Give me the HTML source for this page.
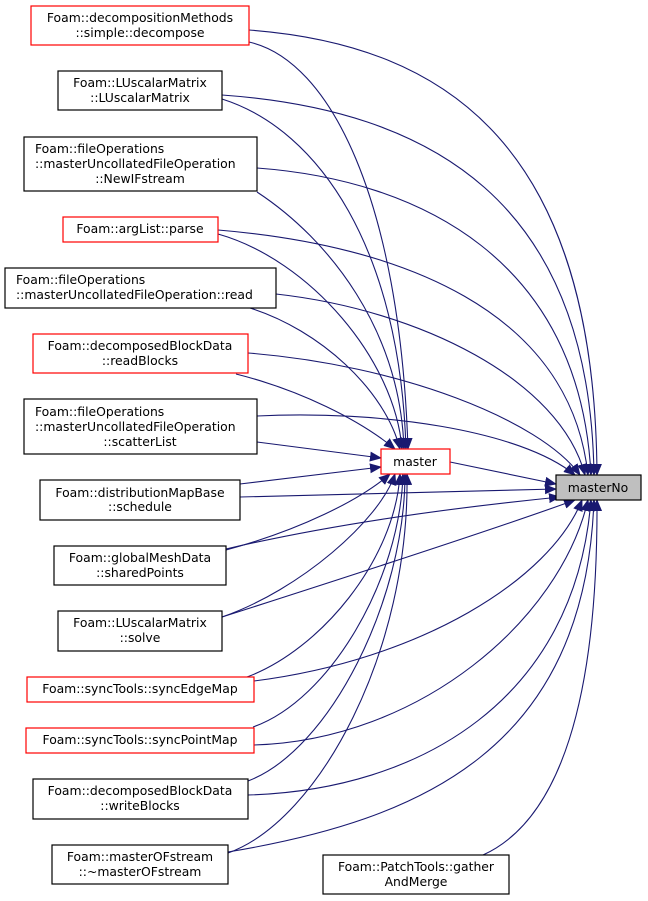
<!DOCTYPE html>
<html><head><meta charset="utf-8"><style>
html,body{margin:0;padding:0;background:#fff;}
svg{display:block;}
text{font-family:"DejaVu Sans","Liberation Sans",sans-serif;font-size:12.4px;fill:#000;}
.e{fill:none;stroke:#191970;stroke-width:1.1;}
.r{fill:#fff;stroke:#ff0000;stroke-width:1.2;}
.b{fill:#fff;stroke:#000;stroke-width:1.2;}
</style></head><body>
<svg width="648" height="901" viewBox="0 0 648 901" xmlns="http://www.w3.org/2000/svg">
<defs><marker id="a" markerWidth="12" markerHeight="10" refX="11" refY="5" orient="auto" markerUnits="userSpaceOnUse"><path d="M0,0 L12,5 L0,10 z" fill="#191970"/></marker></defs>
<g marker-end="url(#a)">
<path class="e" d="M249,30 C450,45 595,150 597,475"/>
<path class="e" d="M222,95 C430,110 590,200 594,475"/>
<path class="e" d="M257,168 C420,180 580,260 591,475"/>
<path class="e" d="M218,230 C400,245 570,310 588,475"/>
<path class="e" d="M276,294 C420,310 560,380 585,475"/>
<path class="e" d="M248,353 C400,365 540,420 580,475"/>
<path class="e" d="M257,416 C380,410 520,430 575,475"/>
<path class="e" d="M450,462 L556,484"/>
<path class="e" d="M240,497 L556,489"/>
<path class="e" d="M226,549 C350,520 480,505 560,497"/>
<path class="e" d="M222,617 C400,560 520,520 575,500"/>
<path class="e" d="M254,681 C420,660 550,580 582,500"/>
<path class="e" d="M254,745 C420,740 560,620 588,500"/>
<path class="e" d="M248,795 C420,790 575,700 591,500"/>
<path class="e" d="M228,852 C420,820 585,750 594,500"/>
<path class="e" d="M483,855 C560,820 598,700 597,500"/>

<path class="e" d="M249,42 C330,60 400,200 408,449"/>
<path class="e" d="M222,99 C320,130 400,250 406,449"/>
<path class="e" d="M257,192 C330,240 400,330 404,449"/>
<path class="e" d="M218,234 C310,260 395,360 402,449"/>
<path class="e" d="M250,308 C320,330 385,390 400,449"/>
<path class="e" d="M236,374 C300,390 360,420 395,449"/>
<path class="e" d="M257,442 L381,458"/>
<path class="e" d="M240,484 L381,467"/>
<path class="e" d="M226,550 C300,530 360,500 390,474"/>
<path class="e" d="M222,617 C300,590 380,520 395,474"/>
<path class="e" d="M247,677 C320,650 395,560 400,474"/>
<path class="e" d="M253,727 C330,700 400,580 403,474"/>
<path class="e" d="M248,781 C330,750 405,600 405,474"/>
<path class="e" d="M228,853 C320,820 410,650 407,474"/>
</g>

<rect class="r" x="31" y="6" width="218" height="39"/>
<text x="140" y="22" text-anchor="middle">Foam::decompositionMethods</text>
<text x="140" y="37" text-anchor="middle">::simple::decompose</text>

<rect class="b" x="58" y="71" width="164" height="39"/>
<text x="140" y="87" text-anchor="middle">Foam::LUscalarMatrix</text>
<text x="140" y="102" text-anchor="middle">::LUscalarMatrix</text>

<rect class="b" x="24" y="137" width="233" height="54"/>
<text x="35" y="153">Foam::fileOperations</text>
<text x="35" y="168">::masterUncollatedFileOperation</text>
<text x="140" y="183" text-anchor="middle">::NewIFstream</text>

<rect class="r" x="63" y="217" width="155" height="25"/>
<text x="140" y="233" text-anchor="middle">Foam::argList::parse</text>

<rect class="b" x="5" y="268" width="271" height="40"/>
<text x="16" y="284">Foam::fileOperations</text>
<text x="16" y="299">::masterUncollatedFileOperation::read</text>

<rect class="r" x="33" y="334" width="215" height="39"/>
<text x="140" y="350" text-anchor="middle">Foam::decomposedBlockData</text>
<text x="140" y="365" text-anchor="middle">::readBlocks</text>

<rect class="b" x="24" y="399" width="233" height="55"/>
<text x="35" y="416">Foam::fileOperations</text>
<text x="35" y="431">::masterUncollatedFileOperation</text>
<text x="140" y="446" text-anchor="middle">::scatterList</text>

<rect class="b" x="40" y="480" width="200" height="40"/>
<text x="140" y="497" text-anchor="middle">Foam::distributionMapBase</text>
<text x="140" y="511" text-anchor="middle">::schedule</text>

<rect class="b" x="54" y="546" width="172" height="39"/>
<text x="140" y="562" text-anchor="middle">Foam::globalMeshData</text>
<text x="140" y="577" text-anchor="middle">::sharedPoints</text>

<rect class="b" x="58" y="611" width="164" height="40"/>
<text x="140" y="627" text-anchor="middle">Foam::LUscalarMatrix</text>
<text x="140" y="642" text-anchor="middle">::solve</text>

<rect class="r" x="27" y="677" width="227" height="25"/>
<text x="140" y="693" text-anchor="middle">Foam::syncTools::syncEdgeMap</text>

<rect class="r" x="26" y="728" width="228" height="25"/>
<text x="140" y="744" text-anchor="middle">Foam::syncTools::syncPointMap</text>

<rect class="b" x="33" y="779" width="215" height="40"/>
<text x="140" y="795" text-anchor="middle">Foam::decomposedBlockData</text>
<text x="140" y="810" text-anchor="middle">::writeBlocks</text>

<rect class="b" x="52" y="845" width="176" height="39"/>
<text x="140" y="861" text-anchor="middle">Foam::masterOFstream</text>
<text x="140" y="876" text-anchor="middle">::~masterOFstream</text>

<rect class="b" x="323" y="855" width="186" height="39"/>
<text x="416" y="871" text-anchor="middle">Foam::PatchTools::gather</text>
<text x="416" y="886" text-anchor="middle">AndMerge</text>

<rect class="r" x="381" y="449" width="69" height="25"/>
<text x="415" y="466" text-anchor="middle">master</text>

<rect x="556" y="475" width="85" height="25" fill="#bfbfbf" stroke="#000" stroke-width="1.2"/>
<text x="598" y="492" text-anchor="middle">masterNo</text>
</svg>
</body></html>
